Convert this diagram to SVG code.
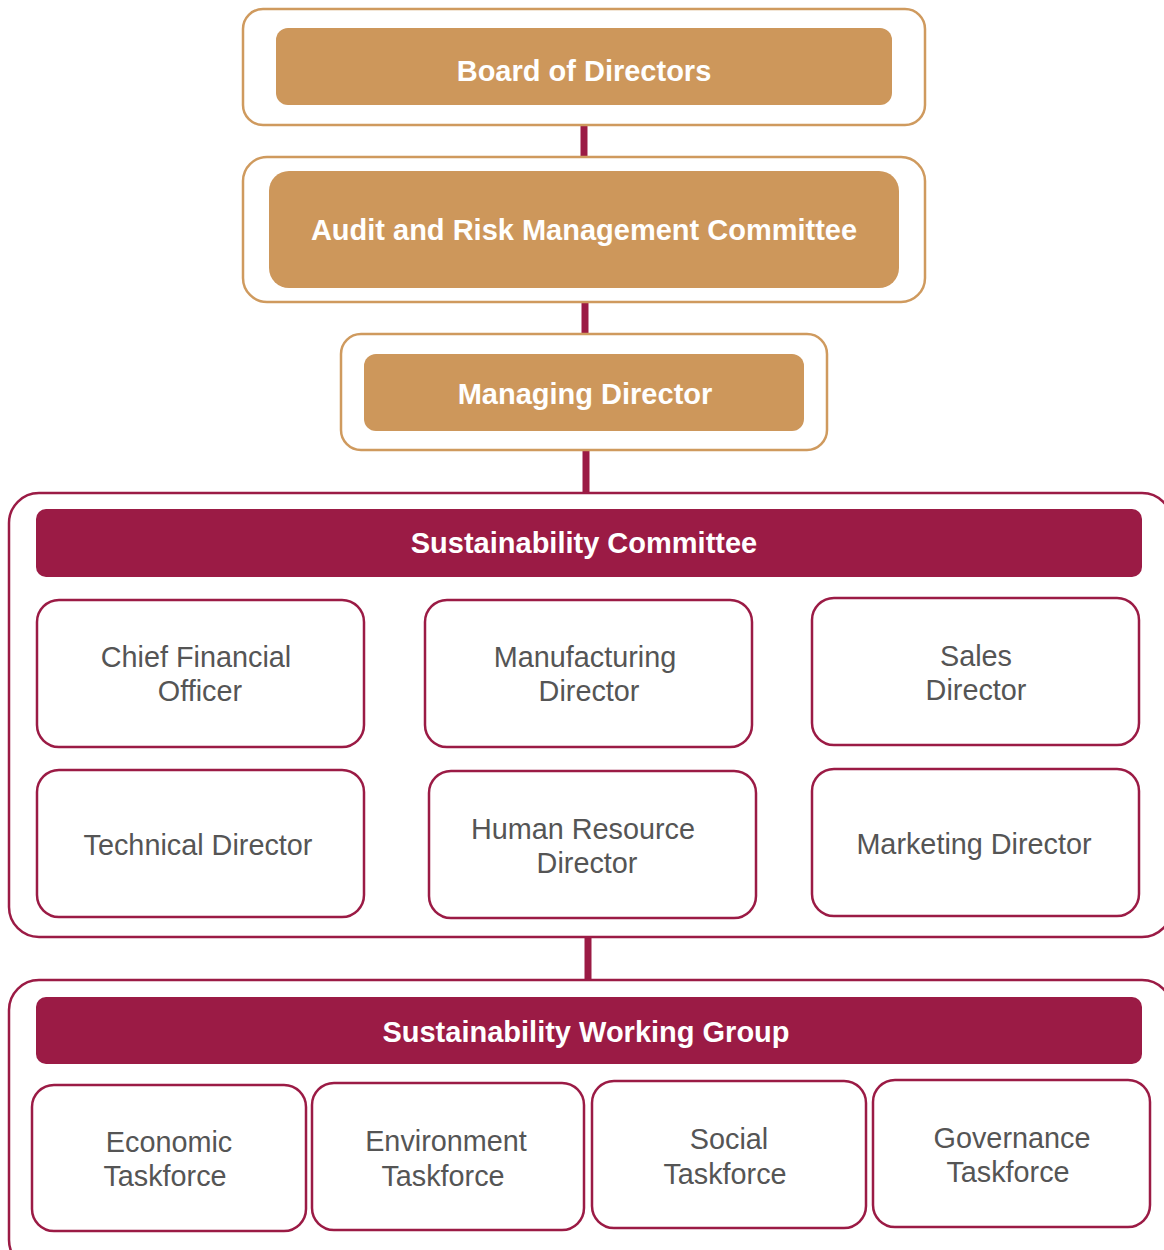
<svg xmlns="http://www.w3.org/2000/svg" width="1164" height="1250" viewBox="0 0 1164 1250">
<style>
.bg{fill:#ffffff}
.oo{fill:#ffffff;stroke:#CF9A5E;stroke-width:2.5}
.oi{fill:#CD975B}
.ro{fill:#ffffff;stroke:#9B1B45;stroke-width:2.5}
.rh{fill:#9B1B45}
.wt{font-family:"Liberation Sans",Arial,sans-serif;font-weight:bold;font-size:29px;fill:#ffffff;text-anchor:middle}
.gt{font-family:"Liberation Sans",Arial,sans-serif;font-size:28.8px;fill:#555555;text-anchor:middle}
.cn{stroke:#9B1B45;stroke-width:7;fill:none}
</style>
<rect class="bg" x="0" y="0" width="1164" height="1250"/>
<g id="connectors">
<line class="cn" x1="584" y1="125" x2="584" y2="157"/>
<line class="cn" x1="585" y1="302" x2="585" y2="334"/>
<line class="cn" x1="586" y1="450" x2="586" y2="493"/>
<line class="cn" x1="588" y1="937" x2="588" y2="980"/>
</g>
<g id="board">
<rect class="oo" x="243" y="9" width="682" height="116" rx="20"/>
<rect class="oi" x="276" y="28" width="616" height="77" rx="12"/>
<text class="wt" x="584" y="81">Board of Directors</text>
</g>
<g id="audit">
<rect class="oo" x="243" y="157" width="682" height="145" rx="24"/>
<rect class="oi" x="269" y="171" width="630" height="117" rx="20"/>
<text class="wt" x="584" y="240">Audit and Risk Management Committee</text>
</g>
<g id="md">
<rect class="oo" x="341" y="334" width="486" height="116" rx="20"/>
<rect class="oi" x="364" y="354" width="440" height="77" rx="12"/>
<text class="wt" x="585" y="404">Managing Director</text>
</g>
<g id="sc">
<rect class="ro" x="9" y="493" width="1163" height="444" rx="30"/>
<rect class="rh" x="36" y="509" width="1106" height="68" rx="10"/>
<text class="wt" x="584" y="553">Sustainability Committee</text>
</g>
<g id="cfo">
<rect class="ro" x="37" y="600" width="327" height="147" rx="22"/>
<text class="gt"><tspan x="196" y="667">Chief Financial</tspan><tspan x="200" y="701">Officer</tspan></text>
</g>
<g id="mfg">
<rect class="ro" x="425" y="600" width="327" height="147" rx="22"/>
<text class="gt"><tspan x="585" y="667">Manufacturing</tspan><tspan x="589" y="701">Director</tspan></text>
</g>
<g id="sales">
<rect class="ro" x="812" y="598" width="327" height="147" rx="22"/>
<text class="gt"><tspan x="976" y="666">Sales</tspan><tspan x="976" y="700">Director</tspan></text>
</g>
<g id="tech">
<rect class="ro" x="37" y="770" width="327" height="147" rx="22"/>
<text class="gt" x="198" y="855">Technical Director</text>
</g>
<g id="hr">
<rect class="ro" x="429" y="771" width="327" height="147" rx="22"/>
<text class="gt"><tspan x="583" y="839">Human Resource</tspan><tspan x="587" y="873">Director</tspan></text>
</g>
<g id="mkt">
<rect class="ro" x="812" y="769" width="327" height="147" rx="22"/>
<text class="gt" x="974" y="854">Marketing Director</text>
</g>
<g id="swg">
<rect class="ro" x="9" y="980" width="1163" height="290" rx="30"/>
<rect class="rh" x="36" y="997" width="1106" height="67" rx="10"/>
<text class="wt" x="586" y="1042">Sustainability Working Group</text>
</g>
<g id="econ">
<rect class="ro" x="32" y="1085" width="274" height="146" rx="22"/>
<text class="gt"><tspan x="169" y="1152">Economic</tspan><tspan x="165" y="1186">Taskforce</tspan></text>
</g>
<g id="env">
<rect class="ro" x="312" y="1083" width="272" height="147" rx="22"/>
<text class="gt"><tspan x="446" y="1151">Environment</tspan><tspan x="443" y="1186">Taskforce</tspan></text>
</g>
<g id="social">
<rect class="ro" x="592" y="1081" width="274" height="147" rx="22"/>
<text class="gt"><tspan x="729" y="1149">Social</tspan><tspan x="725" y="1184">Taskforce</tspan></text>
</g>
<g id="gov">
<rect class="ro" x="873" y="1080" width="277" height="147" rx="22"/>
<text class="gt"><tspan x="1012" y="1148">Governance</tspan><tspan x="1008" y="1182">Taskforce</tspan></text>
</g>
</svg>
